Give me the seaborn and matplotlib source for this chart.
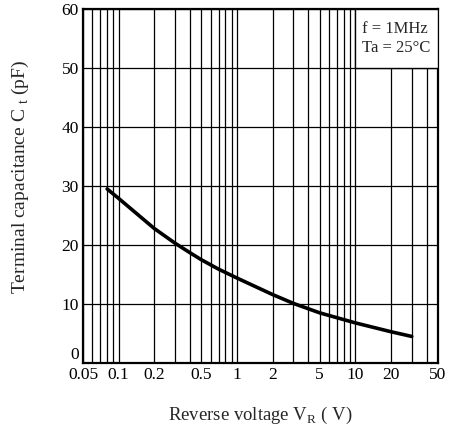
import matplotlib
matplotlib.use("Agg")
import matplotlib.pyplot as plt
import numpy as np
import pandas as pd
import seaborn as sns
from matplotlib.patches import Rectangle
from matplotlib.ticker import FixedLocator, NullFormatter

# reverse voltage (V) vs terminal capacitance (pF)
voltage = [0.08, 0.1, 0.2, 0.3, 0.4, 0.5, 0.7, 1, 2, 3, 5, 10, 20, 30]
capacitance = [29.5, 27.9, 22.8, 20.3, 18.7, 17.5, 15.9, 14.4, 11.6, 10.1, 8.5, 6.8, 5.3, 4.5]

x_ticks = [0.05, 0.1, 0.2, 0.5, 1, 2, 5, 10, 20, 50]
x_tick_labels = ["0.05", "0.1", "0.2", "0.5", "1", "2", "5", "10", "20", "50"]
y_ticks = [0, 10, 20, 30, 40, 50, 60]

sns.set_theme(style="white")
plt.rcParams["font.family"] = ["Liberation Serif", "DejaVu Serif"]
plt.rcParams["mathtext.fontset"] = "custom"
plt.rcParams["mathtext.rm"] = "Liberation Serif"

df = pd.DataFrame({"V": voltage, "C": capacitance})

fig = plt.figure(figsize=(4.54, 4.26), dpi=100)
ax = fig.add_axes([0.1828, 0.1479, 0.7820, 0.8310])

sns.lineplot(data=df, x="V", y="C", color="black", linewidth=2.6, ax=ax, zorder=4)

ax.set_xscale("log")
ax.set_xlim(0.05, 50)
ax.set_ylim(0, 60)

minor = [m * 10.0 ** e for e in range(-2, 2) for m in range(1, 10)]
minor = [v for v in minor if 0.05 < v < 50]
ax.xaxis.set_major_locator(FixedLocator(x_ticks))
ax.set_xticklabels(x_tick_labels)
ax.xaxis.set_minor_locator(FixedLocator(minor))
ax.xaxis.set_minor_formatter(NullFormatter())
ax.set_yticks(y_ticks)
ax.get_yticklabels()[0].set_va("bottom")

ax.grid(True, which="both", axis="x", color="black", linewidth=0.9)
ax.grid(True, which="major", axis="y", color="black", linewidth=0.9)
ax.tick_params(axis="both", which="both", length=0, labelsize=12.5, colors="black", pad=3)

for s in ax.spines.values():
    s.set_color("black")
    s.set_linewidth(1.6)

# condition box in the top-right cell
ax.add_patch(Rectangle((10, 50), 40, 10, facecolor="white", edgecolor="black",
                       linewidth=1.0, zorder=3))
ax.text(11.4, 57.9, "f = 1MHz\nTa = 25°C", ha="left", va="top",
        fontsize=12, linespacing=1.25, zorder=5)

ax.set_xlabel("Reverse voltage V$_{\\rm R}$ ( V)", fontsize=13.5)
ax.xaxis.set_label_coords(0.5, -0.148)
ax.xaxis.label.set_va("center")
ax.set_ylabel("Terminal capacitance C $_{\\rm t}$ (pF)", fontsize=14)
ax.yaxis.set_label_coords(-0.175, 0.525)
ax.yaxis.label.set_va("center")

fig.savefig("out.png", dpi=100)
